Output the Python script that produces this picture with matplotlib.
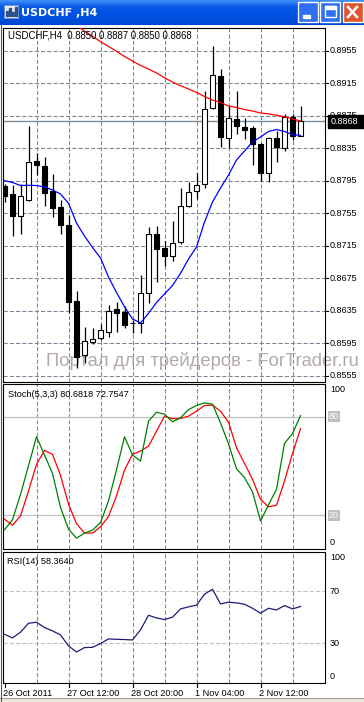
"""MT4 style USDCHF H4 chart with Stochastic and RSI panels."""
import numpy as np
import matplotlib.pyplot as plt
from matplotlib.patches import Rectangle
from matplotlib.colors import LinearSegmentedColormap

W, H = 364, 702

# H4 bars, oldest first
opens = [0.8788, 0.8779, 0.8752, 0.8771, 0.8819, 0.8813, 0.8782, 0.8763,
         0.8741, 0.8647, 0.8580, 0.8597, 0.8601, 0.8609, 0.8637, 0.8633,
         0.8620, 0.8620, 0.8657, 0.8730, 0.8712, 0.8702, 0.8719, 0.8764,
         0.8782, 0.8791, 0.8884, 0.8924, 0.8848, 0.8871, 0.8861, 0.8860,
         0.8840, 0.8805, 0.8847, 0.8835, 0.8874, 0.8850]
highs = [0.8791, 0.8790, 0.8791, 0.8862, 0.8829, 0.8824, 0.8803, 0.8771,
         0.8753, 0.8659, 0.8615, 0.8614, 0.8619, 0.8642, 0.8646, 0.8641,
         0.8624, 0.8679, 0.8738, 0.8739, 0.8721, 0.8745, 0.8786, 0.8794,
         0.8805, 0.8905, 0.8961, 0.8933, 0.8887, 0.8905, 0.8872, 0.8862,
         0.8841, 0.8849, 0.8856, 0.8877, 0.8877, 0.8887]
lows = [0.8769, 0.8727, 0.8729, 0.8770, 0.8802, 0.8764, 0.8750, 0.8729,
        0.8632, 0.8565, 0.8571, 0.8594, 0.8599, 0.8603, 0.8609, 0.8614,
        0.8608, 0.8608, 0.8644, 0.8670, 0.8690, 0.8696, 0.8717, 0.8763,
        0.8772, 0.8786, 0.8883, 0.8836, 0.8835, 0.8852, 0.8846, 0.8814,
        0.8795, 0.8793, 0.8818, 0.8832, 0.8845, 0.8850]
closes = [0.8776, 0.8751, 0.8776, 0.8818, 0.8814, 0.8780, 0.8762, 0.8740,
          0.8646, 0.8578, 0.8598, 0.8600, 0.8611, 0.8635, 0.8632, 0.8617,
          0.8620, 0.8657, 0.8729, 0.8711, 0.8702, 0.8718, 0.8764, 0.8781,
          0.8790, 0.8883, 0.8925, 0.8849, 0.8872, 0.8862, 0.8858, 0.8840,
          0.8805, 0.8847, 0.8837, 0.8873, 0.8850, 0.8868]

# moving averages (blue fast, red slow - slow one runs off the top early)
ma_fast = [0.87950, 0.87928, 0.87891, 0.87893, 0.87891, 0.87872, 0.87836,
           0.87786, 0.87672, 0.87429, 0.87269, 0.87128, 0.86999, 0.86765,
           0.86574, 0.86399, 0.86248, 0.86199, 0.86318, 0.86451, 0.86556,
           0.86660, 0.86810, 0.86986, 0.87134, 0.87442, 0.87688, 0.87860,
           0.88020, 0.88205, 0.88316, 0.88426, 0.88488, 0.88556, 0.88580,
           0.88556, 0.88516, 0.88509]
ma_slow = [None] * 8 + [
    0.89924, 0.89859, 0.89793, 0.89727, 0.89661, 0.89602, 0.89543, 0.89479,
    0.89423, 0.89368, 0.89325, 0.89276, 0.89217, 0.89165, 0.89118, 0.89079,
    0.89036, 0.88986, 0.88943, 0.88913, 0.88869, 0.88851, 0.88826, 0.88808,
    0.88783, 0.88773, 0.88755, 0.88738, 0.88709, 0.88685]

stoch_main = [11.1, 17.2, 32.6, 50.2, 67.8, 56.7, 45.5, 24.7, 11.5, 6.0,
              9.1, 10.9, 15.5, 28.7, 47.7, 67.8, 56.7, 53.0, 77.3, 82.8,
              81.6, 76.9, 79.4, 84.4, 86.9, 88.5, 87.7, 76.3, 63.5, 48.3,
              42.9, 34.2, 16.5, 26.3, 35.8, 63.8, 69.8, 80.68]
stoch_signal = [17.6, 13.9, 19.6, 34.8, 51.0, 59.5, 57.1, 44.3, 26.7, 14.9,
                9.1, 9.1, 12.9, 19.2, 31.8, 47.5, 57.1, 59.1, 62.1, 71.2,
                80.4, 78.8, 79.0, 80.4, 83.4, 86.9, 87.1, 83.4, 76.7, 61.1,
                51.6, 41.9, 29.7, 25.1, 26.1, 40.8, 57.7, 72.75]
rsi = [36.9, 34.1, 38.5, 45.4, 46.2, 42.1, 39.5, 36.4, 27.9, 23.2, 26.6,
       26.8, 29.7, 33.3, 33.0, 32.8, 32.5, 40.3, 51.6, 49.5, 48.3, 50.1,
       56.5, 58.1, 59.4, 67.9, 71.7, 60.4, 61.7, 61.2, 60.1, 57.0, 53.2,
       57.0, 55.7, 59.1, 56.5, 58.36]

price_ticks = [0.8555, 0.8595, 0.8635, 0.8675, 0.8715, 0.8755, 0.8795,
               0.8835, 0.8875, 0.8915, 0.8955]
time_labels = ["26 Oct 2011", "27 Oct 12:00", "28 Oct 20:00",
               "1 Nov 04:00", "2 Nov 12:00"]
time_label_bars = [0, 8, 16, 24, 32]

FONT = "Liberation Sans"
GRID = "#778899"

fig = plt.figure(figsize=(W / 100, H / 100), dpi=100)
fig.patch.set_facecolor("white")


def px_axes(left, top, right, bottom):
    # axes placed in pixel coordinates (origin top left)
    return fig.add_axes([left / W, 1 - bottom / H,
                         (right - left) / W, (bottom - top) / H])


def ftext(x, y, s, **kw):
    kw.setdefault("family", FONT)
    return fig.text(x / W, 1 - y / H, s, **kw)


def style_panel(ax, ylo, yhi):
    ax.set_xlim(-0.1875, 40.06)
    ax.set_ylim(ylo, yhi)
    ax.set_xticks([])
    ax.set_yticks([])
    for sp in ax.spines.values():
        sp.set_color("black")
        sp.set_linewidth(0.8)
    for i in range(4, 38, 4):
        ax.axvline(i, color=GRID, lw=0.75, dashes=(4, 2), zorder=0)


# ---- main price panel ----
ax = px_axes(3, 27.5, 325, 381.5)
ymin, ymax = 0.854787, 0.898355
style_panel(ax, ymin, ymax)
for p in price_ticks:
    ax.axhline(p, color=GRID, lw=0.75, dashes=(4, 2), zorder=0)
ax.axhline(closes[-1], color="#7f8c9a", lw=1.0, zorder=1)

x = np.arange(len(opens))
o, hi, lo, c = (np.array(a) for a in (opens, highs, lows, closes))
up = c >= o
ax.vlines(x, lo, hi, color="black", lw=0.9, zorder=2)
ax.bar(x[up], (c - o)[up], bottom=o[up], width=0.56, color="white",
       edgecolor="black", lw=0.8, zorder=3)
ax.bar(x[~up], (o - c)[~up], bottom=c[~up], width=0.56, color="black",
       edgecolor="black", lw=0.8, zorder=3)
ax.plot(x, np.array(ma_fast, dtype=float), color="#0000ff", lw=0.9, zorder=4)
ax.plot(x, np.array(ma_slow, dtype=float), color="#ff0000", lw=0.9, zorder=4)

ax.text(0.133, 0.058, "Портал для трейдеров - ForTrader.ru",
        transform=ax.transAxes, family=FONT, fontsize=13.2, color="#b3a9a9",
        va="center", ha="left", zorder=1)
ftext(8, 36, "USDCHF,H4  0.8850 0.8887 0.8850 0.8868", fontsize=6.9,
      va="center")

# price scale
for p in price_ticks:
    yy = 27.5 + (ymax - p) / (ymax - ymin) * 354
    fig.add_artist(plt.Line2D([325 / W, 328 / W], [1 - yy / H] * 2,
                              color="black", lw=0.8))
    ftext(330, yy, f"{p:.4f}", fontsize=6.5, va="center")
ycur = 27.5 + (ymax - closes[-1]) / (ymax - ymin) * 354
fig.add_artist(Rectangle((328 / W, 1 - (ycur + 6.5) / H), 36 / W, 13 / H,
                         transform=fig.transFigure, color="black"))
ftext(331, ycur, f"{closes[-1]:.4f}", fontsize=6.5, va="center",
      color="white")

# ---- stochastic panel ----
ax2 = px_axes(3, 383.5, 325, 548.5)
style_panel(ax2, -0.3, 100.3)
for lev in (80, 20):
    ax2.axhline(lev, color="#c0c0c0", lw=0.9, zorder=1)
ax2.plot(x, stoch_main, color="#008000", lw=0.9, zorder=3)
ax2.plot(x, stoch_signal, color="#ff0000", lw=0.9, zorder=2)
ftext(8, 394, "Stoch(5,3,3) 80.6818 72.7547", fontsize=6.6, va="center")


def yscale(v, top, bottom, lo_v, hi_v):
    return top + (hi_v - v) / (hi_v - lo_v) * (bottom - top)


ftext(330, 385, "100", fontsize=6.5, va="top")
ftext(330, 547, "0", fontsize=6.5, va="bottom")
for lev in (80, 20):
    yy = yscale(lev, 383.5, 548.5, -0.3, 100.3)
    ftext(329, yy, str(lev), fontsize=6.5, va="center", color="white",
          bbox=dict(boxstyle="square,pad=0.1", fc="#c0c0c0", ec="none"))

# ---- RSI panel ----
ax3 = px_axes(3, 551.5, 325, 682.5)
style_panel(ax3, -0.4, 100.9)
for lev in (70, 30):
    ax3.axhline(lev, color="#c0c0c0", lw=0.75, dashes=(4, 2), zorder=1)
ax3.plot(x, rsi, color="#1c1c78", lw=0.9, zorder=3)
ftext(7, 562, "RSI(14) 58.3640", fontsize=6.6, va="center")
ftext(330, 553, "100", fontsize=6.5, va="top")
ftext(330, 681, "0", fontsize=6.5, va="bottom")
for lev in (70, 30):
    yy = yscale(lev, 551.5, 682.5, -0.4, 100.9)
    ftext(330, yy, str(lev), fontsize=6.5, va="center")

# time axis
for lab, b in zip(time_labels, time_label_bars):
    xp = 4.5 + 8 * b
    fig.add_artist(plt.Line2D([xp / W] * 2, [1 - 683 / H, 1 - 687 / H],
                              color="black", lw=0.8))
    ftext(xp - 1.5, 693, lab, fontsize=6.6, va="center")

# ---- window chrome ----
fig.add_artist(Rectangle((0, 0), 1, 4 / H, transform=fig.transFigure,
                         color="#ece9d8"))
fig.add_artist(plt.Line2D([0, 1], [4 / H] * 2, color="#a0a0a0", lw=0.8))
fig.add_artist(plt.Line2D([0.6 / W] * 2, [0, 1 - 24 / H], color="#555555",
                          lw=0.8))

tb = fig.add_axes([0, 1 - 25 / H, 1, 25 / H])
blue = LinearSegmentedColormap.from_list(
    "xp", ["#3d8ff7", "#0a5ae8", "#0054e3", "#0050dd", "#0048d0"])
tb.imshow(np.linspace(0, 1, 25).reshape(-1, 1), aspect="auto", cmap=blue,
          extent=(0, W, 25, 0))
tb.set_xlim(0, W)
tb.set_ylim(25, 0)
tb.axis("off")
# icon
tb.add_patch(Rectangle((4, 5), 14, 13, fc="#e8eef8", ec="#7090c0", lw=0.6))
for k, hgt in enumerate([5, 8, 4, 9]):
    tb.add_patch(Rectangle((6 + 3 * k, 16 - hgt), 1.6, hgt, color="#30508a"))
tb.text(21, 12.5, "USDCHF ,H4", color="white", fontsize=8.0,
        fontweight="bold", family="DejaVu Sans", va="center")
# buttons
for bx, fc in ((298, "#2f6ff0"), (320, "#2f6ff0"), (343, "#e0552e")):
    tb.add_patch(Rectangle((bx, 2), 20, 20, fc=fc, ec="white", lw=1.0))
tb.add_patch(Rectangle((303, 15), 7, 2.5, color="white"))
tb.add_patch(Rectangle((325, 6), 11, 11, fc="none", ec="white", lw=1.0))
tb.add_patch(Rectangle((325, 6), 11, 2.5, color="white"))
tb.plot([348, 357], [7, 17], color="white", lw=1.8)
tb.plot([348, 357], [17, 7], color="white", lw=1.8)

fig.savefig("out.png", dpi=100, facecolor=fig.get_facecolor())
